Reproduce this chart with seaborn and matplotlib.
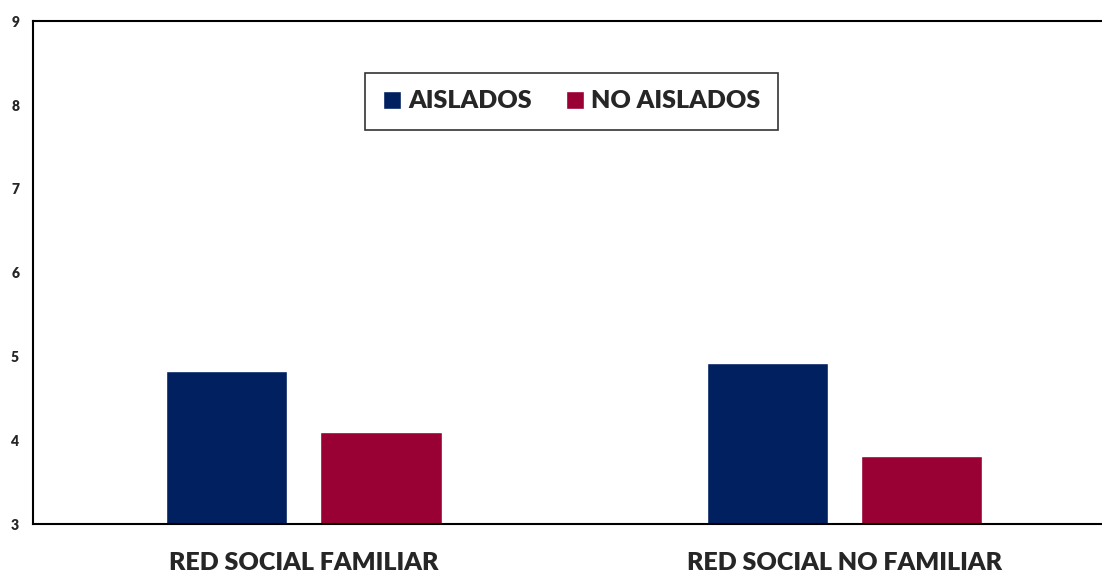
import seaborn as sns
import matplotlib.pyplot as plt
import pandas as pd

categories = ['RED SOCIAL FAMILIAR', 'RED SOCIAL NO FAMILIAR']
groups = ['AISLADOS', 'NO AISLADOS']
aislados = [4.83, 4.92]
no_aislados = [4.10, 3.81]

df = pd.DataFrame({
    'categoria': categories * 2,
    'grupo': [groups[0]] * 2 + [groups[1]] * 2,
    'valor': aislados + no_aislados,
})

sns.set_style('white')
plt.rcParams['font.family'] = ['Lato', 'DejaVu Sans']

fig = plt.figure(figsize=(11.02, 5.73), dpi=100)
ax = fig.add_axes([0.03, 0.0855, 0.97, 0.8775])

sns.barplot(data=df, x='categoria', y='valor', hue='grupo',
            palette=['#002060', '#990033'], width=0.57, gap=0.21,
            saturation=1, ax=ax)

# bars start at 0, the axis floor is 3 so they get clipped there
ax.set_ylim(3, 9)
ax.set_xlim(-0.5, 1.476)
ax.set_yticks(range(3, 10))
ax.set_xlabel('')
ax.set_ylabel('')
ax.tick_params(axis='y', labelsize=10, length=0, pad=10)
ax.tick_params(axis='x', labelsize=18, length=0, pad=20.5)
for lab in ax.get_xticklabels() + ax.get_yticklabels():
    lab.set_fontweight('heavy')

for side in ['left', 'top', 'bottom']:
    ax.spines[side].set_visible(True)
    ax.spines[side].set_color('black')
    ax.spines[side].set_linewidth(1.5)
ax.spines['right'].set_visible(False)

leg = ax.legend(loc='upper center', bbox_to_anchor=(0.504, 0.897), ncol=2,
                frameon=True, fancybox=False, edgecolor='black',
                prop={'weight': 'heavy', 'size': 18}, handlelength=0.72,
                handleheight=0.72, handletextpad=0.28, columnspacing=1.4,
                borderpad=0.7, borderaxespad=0)
leg.get_frame().set_linewidth(1.2)

fig.savefig('out.png', dpi=100)
